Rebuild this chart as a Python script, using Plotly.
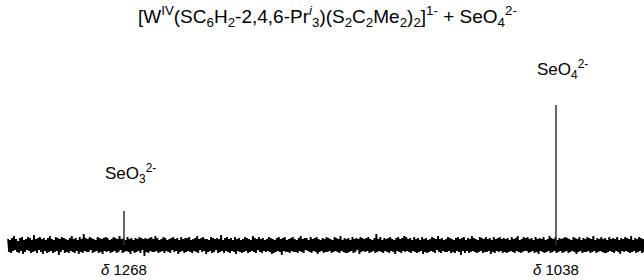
import numpy as np
import plotly.graph_objects as go

# --- data ---
# chemical shifts (ppm) of the two resonances and their heights (arbitrary units, baseline = 0)
peak_shift = [1268, 1038]
peak_height = [34, 140]
peak_label = ["SeO<sub>3</sub><sup>2-</sup>", "SeO<sub>4</sub><sup>2-</sup>"]
shift_label = ["<i>δ</i> 1268", "<i>δ</i> 1038"]

# spectral window (ppm), high field on the right
shift_start = 1329.7
shift_end = 991.1

# baseline noise, read point by point across the window (left -> right)
noise = [
    6,-7,5,-8,7,-6,9,-5,6,-7,4,-8,7,-6,8,-9,5,-7,6,-5,
    8,-6,7,-8,5,-7,10,-6,6,-8,7,-5,8,-7,6,-9,7,-6,5,-8,
    7,-7,9,-6,6,-8,5,-7,8,-6,7,-10,6,-7,8,-5,7,-8,6,-7,
    5,-8,7,-6,9,-7,6,-8,7,-6,5,-9,8,-7,6,-8,11,-6,7,-7,
    6,-7,8,-5,7,-8,6,-7,5,-6,8,-8,7,-7,6,-9,7,-6,8,-7,
    7,-6,5,-8,6,-7,8,-6,7,-8,6,-7,9,-5,6,-8,7,-7,5,-6,
    8,-7,6,-9,7,-6,5,-8,7,-7,6,-6,8,-8,7,-5,6,-11,7,-7,
    6,-8,7,-6,8,-7,6,-7,9,-6,7,-8,5,-7,6,-6,8,-8,7,-6,
    5,-7,6,-8,7,-5,8,-7,6,-6,7,-9,5,-7,8,-6,6,-8,7,-7,
    7,-6,8,-7,5,-8,6,-6,7,-7,9,-8,6,-5,7,-7,8,-6,6,-9,
    6,-7,5,-6,8,-8,7,-7,6,-5,7,-8,6,-7,10,-6,5,-8,7,-6,
    8,-7,6,-8,7,-6,5,-7,8,-9,6,-6,7,-7,5,-8,6,-7,8,-6,
    7,-8,6,-7,5,-6,9,-7,7,-8,6,-5,8,-7,6,-8,7,-6,5,-7,
    6,-6,8,-7,7,-9,6,-8,5,-7,7,-6,8,-7,6,-10,7,-6,8,-7,
    5,-7,6,-8,7,-6,8,-7,6,-7,5,-8,7,-6,9,-7,6,-8,7,-5,
    7,-6,5,-7,8,-8,6,-6,7,-7,8,-9,6,-7,5,-6,7,-8,6,-7,
    8,-7,7,-6,6,-8,5,-7,8,-6,7,-7,6,-8,9,-6,5,-7,7,-8,
    6,-8,7,-7,5,-6,8,-8,6,-7,7,-5,6,-9,8,-7,7,-6,6,-7,
    7,-6,8,-8,6,-7,5,-6,7,-8,11,-7,6,-6,8,-7,5,-8,7,-6,
    6,-7,7,-8,8,-6,6,-7,5,-9,7,-6,8,-7,6,-8,7,-6,9,-7,
    8,-6,6,-7,7,-8,5,-6,8,-7,6,-8,7,-7,5,-6,8,-9,6,-7,
    7,-8,5,-7,6,-6,8,-7,7,-8,6,-5,9,-7,6,-8,7,-6,5,-7,
    6,-7,8,-6,7,-8,6,-7,5,-8,7,-6,8,-7,6,-10,7,-6,8,-8,
    5,-6,7,-8,6,-7,9,-6,7,-7,6,-8,5,-7,8,-6,7,-8,6,-7,
    8,-7,6,-6,7,-9,5,-7,8,-8,6,-6,7,-7,8,-6,6,-8,7,-7,
    6,-8,7,-7,5,-6,8,-7,6,-8,7,-6,9,-7,5,-8,6,-7,8,-6,
    7,-6,8,-8,6,-7,7,-6,5,-8,8,-7,6,-9,7,-6,6,-7,8,-8,
    5,-7,6,-6,9,-8,7,-7,6,-6,8,-8,5,-7,7,-6,6,-8,7,-7,
    8,-6,7,-8,6,-7,5,-6,8,-7,7,-9,6,-7,8,-6,5,-8,7,-7,
    6,-7,8,-6,7,-8,6,-7,9,-6,5,-8,7,-7,6,-6,8,-7,6,-8,
    7,-8,5,-7,8,-6,6,-7,7,-8,6,-6,8,-7,5,-9,7,-6,6,-7,
    8,-6,7,-7,6,-8,9,-7,5,-6,7,-8,6,-7,8,-6,7,-8,6,-7,
]

shifts = np.linspace(shift_start, shift_end, len(noise))

fig = go.Figure()
fig.add_trace(go.Scatter(x=shifts, y=noise, mode="lines",
                         line=dict(color="black", width=1.8), hoverinfo="skip"))

px_, py_ = [], []
for s, h in zip(peak_shift, peak_height):
    px_ += [s, s, None]
    py_ += [0, h, None]
fig.add_trace(go.Scatter(x=px_, y=py_, mode="lines",
                         line=dict(color="#333333", width=1.5), hoverinfo="skip"))

font = dict(family="Liberation Sans, Arial, sans-serif", color="black")
title = ("[W<sup>IV</sup>(SC<sub>6</sub>H<sub>2</sub>-2,4,6-Pr<sup><i>i</i></sup><sub>3</sub>)"
         "(S<sub>2</sub>C<sub>2</sub>Me<sub>2</sub>)<sub>2</sub>]<sup>1-</sup> + SeO<sub>4</sub><sup>2-</sup>")
annotations = [dict(text=title, xref="paper", yref="paper", x=0.508, y=0.94,
                    xanchor="center", yanchor="middle", showarrow=False,
                    font=dict(size=19, **font))]
label_y = [72, 176]
label_dx = [-3.5, -3.2]
for s, lab, ly, dx in zip(peak_shift, peak_label, label_y, label_dx):
    annotations.append(dict(text=lab, x=s + dx, y=ly, xref="x", yref="y",
                            xanchor="center", yanchor="middle", showarrow=False,
                            font=dict(size=17, **font)))
for s, lab in zip(peak_shift, shift_label):
    annotations.append(dict(text=lab, x=s, y=-24, xref="x", yref="y",
                            xanchor="center", yanchor="middle", showarrow=False,
                            font=dict(size=15, **font)))

fig.update_layout(
    width=644, height=280,
    margin=dict(l=0, r=0, t=0, b=0),
    paper_bgcolor="white", plot_bgcolor="white",
    showlegend=False,
    xaxis=dict(range=[1334.0, 991.15], visible=False, showgrid=False, zeroline=False),
    yaxis=dict(range=[-35, 245], visible=False, showgrid=False, zeroline=False),
    annotations=annotations,
)

fig.write_html("out.html", config={"displayModeBar": False},
               post_script="document.body.style.margin='0';")
